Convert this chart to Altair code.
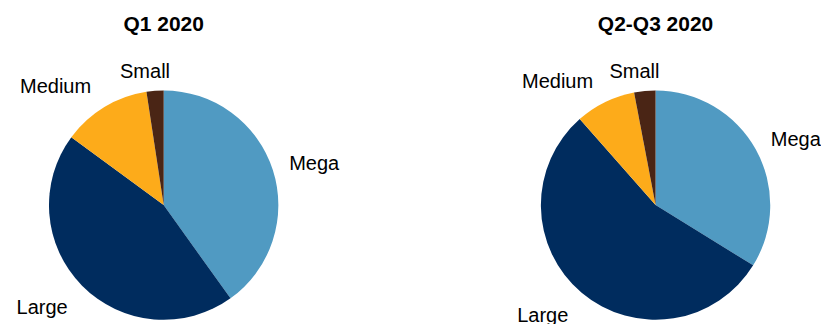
import altair as alt
import pandas as pd

sizes = ["Mega", "Large", "Medium", "Small"]
q1_2020 = [40.1, 45.0, 12.5, 2.4]
q2q3_2020 = [33.8, 54.7, 8.5, 3.0]
titles = ["Q1 2020", "Q2-Q3 2020"]
colors = ["#509AC2", "#002C5E", "#FDAB1A", "#4A2515"]

FONT = "Liberation Sans"
LABEL_R = 134


def pie(values, title):
    df = pd.DataFrame({"size": sizes, "value": values, "idx": list(range(len(sizes)))})
    base = alt.Chart(df).encode(
        theta=alt.Theta("value:Q", stack=True),
        order=alt.Order("idx:Q"),
    )
    arc = base.mark_arc(outerRadius=117.5).encode(
        color=alt.Color("size:N", scale=alt.Scale(domain=sizes, range=colors), legend=None)
    )
    specs = [
        ("Mega", "left", "middle", 1, -1),
        ("Large", "right", "top", -3, 1),
        ("Medium", "right", "bottom", -5, 4),
        ("Small", "center", "bottom", -9, 7),
    ]
    labels = []
    for name, align, baseline, dx, dy in specs:
        labels.append(
            base.transform_calculate(lbl=f"datum.size == '{name}' ? datum.size : ''")
            .mark_text(radius=LABEL_R, align=align, baseline=baseline, font=FONT,
                       fontSize=20.5, color="#000000", dx=dx, dy=dy)
            .encode(text="lbl:N")
        )
    return alt.layer(arc, *labels).properties(
        width=311, height=250,
        title=alt.TitleParams(title, font=FONT, fontSize=21.5, fontWeight="bold",
                              color="#000000", offset=24, anchor="middle"),
    )


chart = alt.hconcat(pie(q1_2020, titles[0]), pie(q2q3_2020, titles[1]),
                    spacing=193, bounds="flush").properties(
    padding={"left": 4, "top": 2, "right": 0, "bottom": 0}
).configure_view(stroke=None)

chart.save("out.html", embed_options={"renderer": "svg", "actions": False})
